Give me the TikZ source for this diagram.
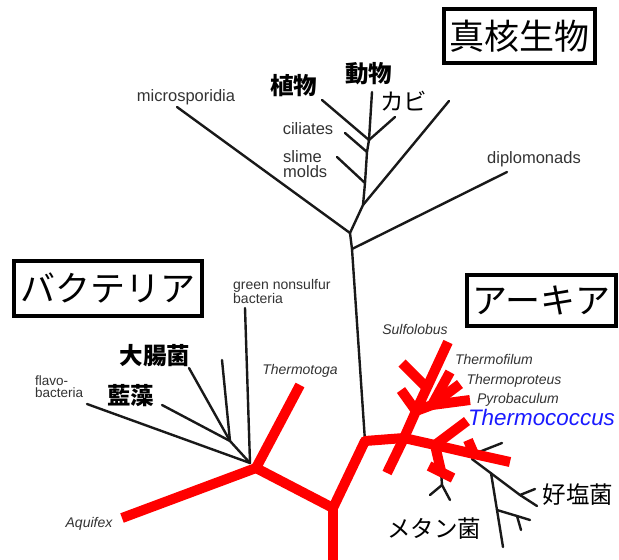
\documentclass[tikz,border=0pt]{standalone}
\usepackage{fontspec}
\setmainfont{Liberation Sans}
\newfontfamily\cjk{Noto Sans CJK JP}
\definecolor{labgray}{HTML}{333333}
\definecolor{tcblue}{HTML}{1A1AFF}
\tikzset{
  blk/.style={draw=black!90, line width=2.4pt, line cap=round},
  redl/.style={draw=red, line width=10pt, line cap=butt},
  lab/.style={text=labgray, inner sep=0pt, font=\fontsize{16.5}{15}\selectfont, align=left},
  ital/.style={text=labgray, inner sep=0pt, font=\fontsize{14}{14}\selectfont\itshape},
  smalllab/.style={text=labgray, inner sep=0pt, font=\fontsize{14}{12}\selectfont, align=left},
  jpb/.style={inner sep=0pt, font=\cjk\bfseries\fontsize{23.5}{24}\selectfont},
  jpr/.style={inner sep=0pt, font=\cjk\fontsize{23.5}{24}\selectfont},
  bigbox/.style={draw, line width=4pt, inner sep=0pt, font=\cjk\fontsize{35}{36}\selectfont},
}
\begin{document}
\begin{tikzpicture}[x=1pt,y=-1pt]
\useasboundingbox[fill=white] (0,0) rectangle (619,560);
% ---------- coordinates ----------
% eukaryotes
\coordinate (E1) at (350,233);
\coordinate (E2) at (363,205);
\coordinate (Es) at (365,183);
\coordinate (Ec) at (367,152);
\coordinate (E5) at (369,140);
\coordinate (E6) at (352,249);
\coordinate (tM) at (177,107);
\coordinate (tL) at (449,101);
\coordinate (tS) at (337,157);
\coordinate (tC) at (345,133);
\coordinate (tP) at (322,100);
\coordinate (tA) at (372,92);
\coordinate (tF) at (395,117);
\coordinate (tD) at (507,172);
% bacteria
\coordinate (B0) at (256,468);
\coordinate (Bb) at (250,463);
\coordinate (Bc) at (230,441);
\coordinate (tAq) at (122,518);
\coordinate (tTm) at (300,385);
\coordinate (R) at (333,508);
\coordinate (Rb) at (333,562);
\coordinate (tFl) at (87,404);
\coordinate (tGn) at (245,308);
\coordinate (tAi) at (162,405);
\coordinate (tEc) at (189,368);
\coordinate (tX) at (222,360);
% archaea
\coordinate (A0) at (365,441);
\coordinate (A1) at (404,438);
\coordinate (Kb) at (387,473);
\coordinate (C1) at (416,411);
\coordinate (S1) at (427,388);
\coordinate (tSu) at (448,342);
\coordinate (tS1) at (402,363);
\coordinate (tS2) at (401,390);
\coordinate (C2) at (432,405);
\coordinate (tTf) at (450,372);
\coordinate (tTp) at (460,384);
\coordinate (tPy) at (470,400);
\coordinate (M1) at (435,445);
\coordinate (M3) at (474,454);
\coordinate (tEe) at (510,462);
\coordinate (tTc) at (467,421);
\coordinate (M2) at (441,471);
\coordinate (tM2a) at (429,466);
\coordinate (tM2b) at (453,478);
\coordinate (Mf) at (442,485);
\coordinate (tMa) at (430,495);
\coordinate (tMb) at (450,500);
\coordinate (tM3r) at (468,440);
\coordinate (tM3k) at (502,443);
\coordinate (H0) at (472,459);
\coordinate (H1) at (520,495);
\coordinate (tH) at (537,506);
\coordinate (tHa) at (535,489);
\coordinate (V0) at (491,473);
\coordinate (V1) at (497,510);
\coordinate (V2) at (517,516);
\coordinate (tV) at (503,547);
\coordinate (tVa) at (530,520);
\coordinate (tVb) at (521,530);
% ---------- black lines ----------
\draw[blk] (tM) -- (E1);
\draw[blk] (A0) -- (E6) -- (E1) -- (E2) -- (Es) -- (Ec) -- (E5);
\draw[blk] (E2) -- (tL);
\draw[blk] (Es) -- (tS);
\draw[blk] (Ec) -- (tC);
\draw[blk] (E5) -- (tP);
\draw[blk] (E5) -- (tA);
\draw[blk] (E5) -- (tF);
\draw[blk] (E6) -- (tD);
\draw[blk] (tFl) -- (Bb);
\draw[blk] (tGn) -- (Bb);
\draw[blk] (Bc) -- (Bb);
\draw[blk] (tAi) -- (Bc);
\draw[blk] (tEc) -- (Bc);
\draw[blk] (tX) -- (Bc);
\draw[blk] (M2) -- (Mf);
\draw[blk] (Mf) -- (tMa);
\draw[blk] (Mf) -- (tMb);
\draw[blk] (M3) -- (tM3k);
\draw[blk] (H0) -- (H1) -- (tH);
\draw[blk] (H1) -- (tHa);
\draw[blk] (V0) -- (V1) -- (tV);
\draw[blk] (V1) -- (V2) -- (tVa);
\draw[blk] (V2) -- (tVb);
% ---------- red lines ----------
\draw[redl] (B0) -- (tAq);
\draw[redl] (B0) -- (tTm);
\draw[redl] (B0) -- (R);
\draw[redl] (R) -- (A0);
\draw[redl] (R) -- (Rb);
\draw[redl] (A0) -- (A1);
\draw[redl] (A1) -- (Kb);
\draw[redl] (A1) -- (C1);
\draw[redl] (C1) -- (tSu);
\draw[redl] (S1) -- (tS1);
\draw[redl] (C1) -- (tS2);
\draw[redl] (C1) -- (C2);
\draw[redl] (C2) -- (tTf);
\draw[redl] (C2) -- (tTp);
\draw[redl] (C2) -- (tPy);
\draw[redl] (A1) -- (M1) -- (M3) -- (tEe);
\draw[redl] (M1) -- (tTc);
\draw[redl] (M1) -- (M2);
\draw[redl] (tM2a) -- (tM2b);
\draw[redl] (M3) -- (tM3r);
\foreach \j in {B0,R,A0,A1,C1,C2,M1,M3}
  \fill[red] (\j) circle[radius=5];
% ---------- labels ----------
\node[bigbox, minimum width=151pt, minimum height=54pt] (euk) at (519,36) {真核生物};
\node[bigbox, minimum width=149pt, minimum height=51pt] (arc) at (541.5,300.5) {アーキア};
\node[bigbox, minimum width=188pt, minimum height=55pt] (bac) at (108,288.5) {バクテリア};
\node[lab] (lmic) at (186,97) {microsporidia};
\node[lab] (ldip) at (534,159.5) {diplomonads};
\node[lab] (lcil) at (308,128.5) {ciliates};
\node[lab, anchor=west] (lsli) at (283,164) {slime\\molds};
\node[jpb] (lpla) at (293.5,86) {植物};
\node[jpb] (lani) at (368.5,74) {動物};
\node[jpr] (lfun) at (403.5,101) {カビ};
\node[smalllab, anchor=west] (lgns) at (233,291.5) {green nonsulfur\\bacteria};
\node[jpb] (leco) at (155,356) {大腸菌};
\node[jpb] (lcya) at (130.5,396) {藍藻};
\node[smalllab, anchor=west, font=\fontsize{13.5}{12}\selectfont] (lfla) at (35,387) {flavo-\\bacteria};
\node[ital] (ltmt) at (300,371) {Thermotoga};
\node[ital] (laqu) at (89,523.5) {Aquifex};
\node[ital] (lsul) at (415,329) {Sulfolobus};
\node[ital] (ltfl) at (494,359.5) {Thermofilum};
\node[ital] (ltpr) at (514,381) {Thermoproteus};
\node[ital] (lpyr) at (518,400) {Pyrobaculum};
\node[ital, text=tcblue, font=\fontsize{22.4}{24}\selectfont\itshape] (ltco) at (541.5,417.5) {Thermococcus};
\node[jpr] (lhal) at (578,495) {好塩菌};
\node[jpr] (lmet) at (434,529) {メタン菌};
\end{tikzpicture}
\end{document}
